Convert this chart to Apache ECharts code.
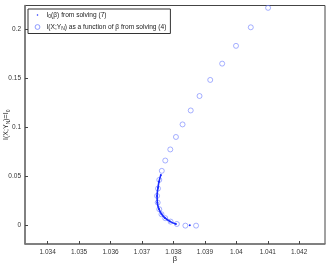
<!DOCTYPE html>
<html><head><meta charset="utf-8">
<script src="https://cdn.jsdelivr.net/npm/echarts@6/dist/echarts.min.js"></script>
<style>html,body{margin:0;padding:0;background:#fff}#c{width:329px;height:263px}</style>
</head><body><div id="c"></div>
<script>
// I(X;Y_N) as a function of beta from solving (4) -- circles
const betaCircles = [1.04101,1.04046,1.03999,1.03955,1.03917,1.03883,1.03855,1.03829,1.03808,1.03790,1.03774,1.03763,1.03755,1.03751,1.03748,1.03750,1.03755,1.03762,1.03774,1.03791,1.03811,1.03838,1.03872];
const infoCircles = [0.2218,0.2020,0.1831,0.1650,0.1484,0.1320,0.1173,0.1031,0.0903,0.0776,0.0663,0.0558,0.0466,0.0378,0.0303,0.0235,0.0167,0.0116,0.0076,0.0041,0.0017,0.0000,0.0000];
// I_0(beta) from solving (7) -- dense dots
const betaCurve = [1.03760,1.03754,1.03751,1.03748,1.03749,1.03754,1.03762,1.03773,1.03789,1.03808,null,1.03852];
const infoCurve = [0.0517,0.0446,0.0385,0.0303,0.0232,0.0170,0.0119,0.0079,0.0043,0.0017,null,0.0004];
const xTicks = [1.034,1.035,1.036,1.037,1.038,1.039,1.040,1.041,1.042];
const yTicks = [0,0.05,0.1,0.15,0.2];
const nameCurve = 'I0(β) from solving (7)';
const nameCircles = 'I(X;YN) as a function of β from solving (4)';

const circleData = betaCircles.map((b,i)=>[b, infoCircles[i]]);
const curveData = betaCurve.map((b,i)=> b===null ? ['-','-'] : [b, infoCurve[i]]);
const fmt = v => String(parseFloat(v.toFixed(3)));
const FONT = 'Liberation Sans, Arial, sans-serif';
const CIRC = '#7383ff', LINE = '#1a2bff';

const chart = echarts.init(document.getElementById('c'), null, {renderer:'canvas'});
chart.setOption({
  animation:false,
  textStyle:{fontFamily:FONT},
  grid:{left:25, right:4, top:5.5, bottom:19, show:true, borderColor:'#444', borderWidth:1, outerBoundsMode:'none', containLabel:false},
  legend:{
    left:28, top:9, orient:'vertical', itemGap:3, itemWidth:8, itemHeight:8,
    padding:[2,4,2,5], borderColor:'#333', borderWidth:1, backgroundColor:'#fff',
    textStyle:{fontSize:6.6, color:'#222', fontFamily:FONT,
      rich:{a:{fontSize:6.6,color:'#222'}, s:{fontSize:5,color:'#222',padding:[4,0,0,0]}}},
    formatter: n => n===nameCurve ? '{a|I}{s|0}{a|(β) from solving (7)}' : '{a|I(X;Y}{s|N}{a|) as a function of β from solving (4)}',
    data:[
      {name:nameCurve, icon:'path://M0,0M10,10M4.2,4.2h1.6v1.6h-1.6z', itemStyle:{color:LINE}},
      {name:nameCircles, icon:'path://M0,0M10,10M8,5A3,3 0 1,1 2,5A3,3 0 1,1 8,5z', itemStyle:{color:'rgba(0,0,0,0)', borderColor:CIRC, borderWidth:1}}
    ]
  },
  xAxis:{
    type:'value', min:1.03328, max:1.04282,
    name:'β', nameLocation:'middle', nameGap:11, nameMoveOverlap:false, nameTextStyle:{fontSize:7.5, color:'#222'},
    axisLine:{show:true, onZero:false, lineStyle:{color:'#777', width:1.5}},
    axisTick:{show:true, inside:true, length:3, customValues:xTicks, lineStyle:{color:'#444'}},
    axisLabel:{fontSize:6.5, color:'#333', margin:5, customValues:xTicks, formatter:fmt},
    splitLine:{show:false}
  },
  yAxis:{
    type:'value', min:-0.0187, max:0.2242,
    name:'{a|I(X;Y}{s|N}{a|)=I}{s|0}', nameLocation:'middle', nameGap:14, nameMoveOverlap:false,
    nameTextStyle:{fontSize:7, color:'#222', rich:{a:{fontSize:7,color:'#222'}, s:{fontSize:5,color:'#222',padding:[4,0,0,0]}}},
    axisLine:{show:true, onZero:false, lineStyle:{color:'#777', width:1.5}},
    axisTick:{show:true, inside:true, length:3, customValues:yTicks, lineStyle:{color:'#444'}},
    axisLabel:{fontSize:6.5, color:'#333', margin:4, customValues:yTicks, formatter:v=>String(parseFloat(v.toFixed(2)))},
    splitLine:{show:false}
  },
  series:[
    {name:nameCurve, type:'line', data:curveData, smooth:true, connectNulls:false,
     symbol:'circle', symbolSize:2, showSymbol:true,
     itemStyle:{color:LINE}, lineStyle:{color:LINE, width:1.6}, z:3},
    {name:nameCircles, type:'scatter', data:circleData, symbol:'circle', symbolSize:5,
     itemStyle:{color:'rgba(0,0,0,0)', borderColor:CIRC, borderWidth:0.8}, z:2}
  ]
});
</script></body></html>
